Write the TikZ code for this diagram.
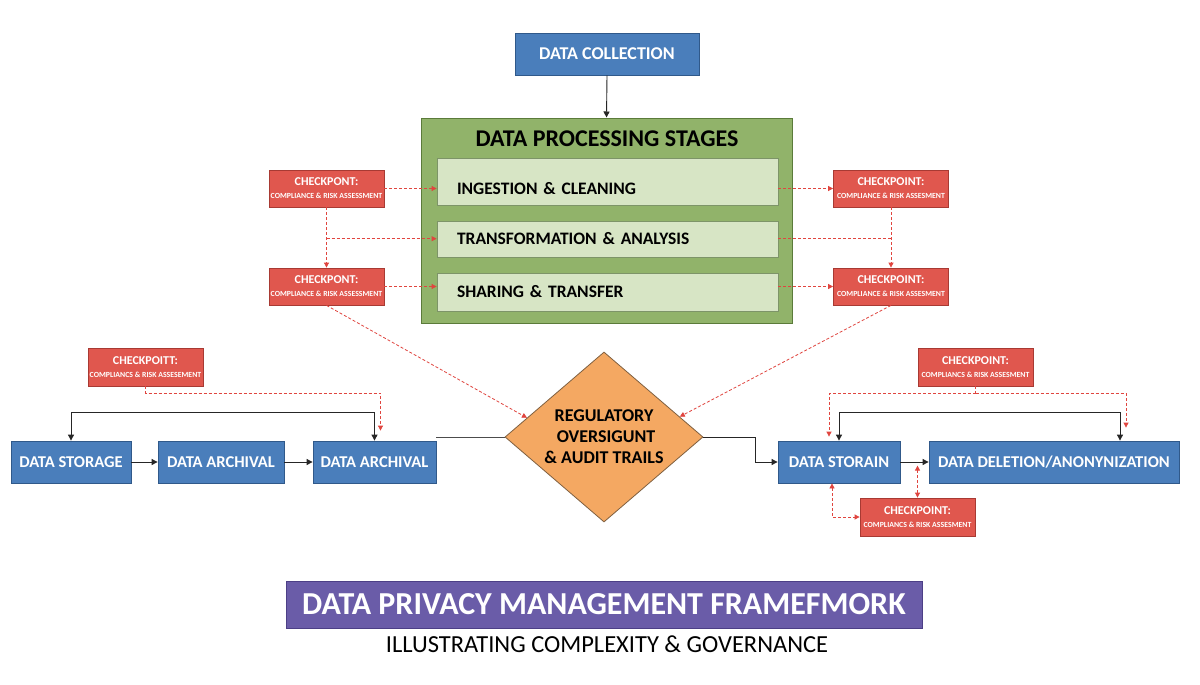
\documentclass[tikz,border=0pt]{standalone}
\usepackage{fontspec}
\setmainfont{Carlito}
\usetikzlibrary{shapes.geometric,arrows.meta,calc}
\definecolor{blueF}{HTML}{4A7EBB}
\definecolor{blueD}{HTML}{30598A}
\definecolor{greenF}{HTML}{91B36A}
\definecolor{greenD}{HTML}{5B7B3A}
\definecolor{innerF}{HTML}{D7E5C5}
\definecolor{innerD}{HTML}{7D9468}
\definecolor{redF}{HTML}{E0574E}
\definecolor{redD}{HTML}{A83A33}
\definecolor{redA}{HTML}{E0453F}
\definecolor{orangeF}{HTML}{F4A862}
\definecolor{orangeD}{HTML}{7F6040}
\definecolor{purpleF}{HTML}{6A5CA8}
\definecolor{purpleD}{HTML}{4C3F86}
\newcommand{\cpt}[2]{{\fontsize{12}{13}\selectfont\bfseries #1}\\[1pt]{\fontsize{7.8}{8}\selectfont\bfseries #2}}
\begin{document}
\begin{tikzpicture}[x=1pt,y=-1pt,
  bluebox/.style={draw=blueD,fill=blueF,line width=0.8pt,text=white,inner sep=0pt,
    font=\bfseries\fontsize{16.5}{18}\selectfont,minimum height=42pt},
  innerbox/.style={draw=innerD,fill=innerF,line width=0.8pt,text=black,inner ysep=0pt,
    inner xsep=20pt,text width=301pt,align=left,font=\bfseries\fontsize{17.5}{19}\selectfont},
  cpbox/.style={draw=redD,fill=redF,line width=0.8pt,text=white,inner sep=0pt,align=center,
    minimum width=115pt,minimum height=37pt},
  blk/.style={draw=black!85,line width=0.9pt,-{Triangle[width=6pt,length=6pt]}},
  grayline/.style={draw=black!70,line width=0.9pt},
  rdash/.style={draw=redA,line width=0.8pt,dash pattern=on 3pt off 2pt,-{Triangle[width=5pt,length=5pt]}},
  ]
\useasboundingbox (0,0) rectangle (1200,685);
\fill[white] (0,0) rectangle (1200,685);

% top
\node[bluebox,minimum width=184pt,font=\bfseries\fontsize{18}{20}\selectfont] (coll) at (607,54) {DATA COLLECTION};
\node[draw=greenD,fill=greenF,line width=1pt,minimum width=371pt,minimum height=205pt,inner sep=0pt] (outer) at (606.5,220.5) {};
\node[font=\bfseries\fontsize{24}{26}\selectfont] (ptitle) at (607,139) {DATA PROCESSING STAGES};
\node[innerbox,minimum height=47pt,text height=25pt,text depth=0pt] (in1) at (607.5,181.5) {INGESTION \& CLEANING};
\node[innerbox,minimum height=36pt] (in2) at (607.5,239) {TRANSFORMATION \& ANALYSIS};
\node[innerbox,minimum height=38pt] (in3) at (607.5,292) {SHARING \& TRANSFER};
\draw[blk] (coll.south) -- (outer.north);

% checkpoints around processing
\node[cpbox] (L1) at (326.5,188.5) {\cpt{CHECKPONT:}{COMPLIANCE \& RISK ASSESSMENT}};
\node[cpbox] (L2) at (326.5,286.5) {\cpt{CHECKPONT:}{COMPLIANCE \& RISK ASSESSMENT}};
\node[cpbox] (R1) at (891,188.5) {\cpt{CHECKPOINT:}{COMPLIANCE \& RISK ASSESMENT}};
\node[cpbox] (R2) at (891,286.5) {\cpt{CHECKPOINT:}{COMPLIANCE \& RISK ASSESMENT}};

\draw[rdash] (L1.east) -- (L1.east -| in1.west);
\draw[rdash] (L1.south) -- (L2.north);
\coordinate (lb) at ($(L1.south)!0.52!(L2.north)$);
\draw[rdash] (lb) -- (lb -| in2.west);
\draw[rdash] (L2.east) -- (L2.east -| in3.west);

\draw[rdash] (in1.east |- R1.west) -- (R1.west);
\draw[rdash] (R1.south) -- (R2.north);
\coordinate (rb) at ($(R1.south)!0.52!(R2.north)$);
\draw[rdash,-] (in2.east |- rb) -- (rb);
\draw[rdash] (in3.east |- R2.west) -- (R2.west);

% diamond
\node[shape=diamond,draw=orangeD,fill=orangeF,line width=0.8pt,minimum width=198pt,minimum height=170pt,
  inner sep=0pt,aspect=1.165,align=center,font=\bfseries\fontsize{18}{21}\selectfont] (diam) at (604,437)
  {REGULATORY\\ \ OVERSIGUNT\\\& AUDIT TRAILS};
\draw[rdash] (L2.south) -- (diam.166);
\draw[rdash] (R2.south) -- (diam.15);

% bottom left
\node[bluebox,minimum width=120pt] (st) at (71,462) {DATA STORAGE};
\node[bluebox,minimum width=126pt] (ar1) at (221,462) {DATA ARCHIVAL};
\node[bluebox,minimum width=123pt] (ar2) at (374.5,462) {DATA ARCHIVAL};
\draw[blk] (st.east) -- (ar1.west);
\draw[blk] (ar1.east) -- (ar2.west);
\draw[blk,{Triangle[width=6pt,length=6pt]}-{Triangle[width=6pt,length=6pt]}] (st.north) -- ++(0,-28) -| (ar2.north);
\node[cpbox,minimum height=38pt] (CL) at (145.5,367) {\cpt{CHECKPOITT:}{COMPLIANCS \& RISK ASSESEMENT}};
\draw[rdash] (CL.south) -- ++(0,7) -| ([xshift=6pt,yshift=10pt]ar2.north);
\draw[grayline] (ar2.east |- diam.west) -- (diam.west);

% bottom right
\node[bluebox,minimum width=122pt] (sto) at (839,462) {DATA STORAIN};
\node[bluebox,minimum width=250pt] (del) at (1054,462) {DATA DELETION/ANONYNIZATION};
\draw[blk] (diam.east) -- ++(52,0) |- (sto.west);
\draw[blk] (sto.east) -- (del.west);
\draw[blk,{Triangle[width=6pt,length=6pt]}-{Triangle[width=6pt,length=6pt]}] ([xshift=66pt]del.north) -- ++(0,-28) -| (sto.north);
\node[cpbox,minimum height=38pt] (CR) at (975.5,367) {\cpt{CHECKPOINT:}{COMPLIANCS \& RISK ASSESMENT}};
\draw[rdash,-] (CR.south) -- ++(0,7) coordinate (crj);
\draw[rdash] (crj) -| ([xshift=-10pt,yshift=4pt]sto.north);
\draw[rdash] (crj) -| ([xshift=72pt,yshift=13pt]del.north);
\node[cpbox,minimum height=38pt] (CB) at (917.5,517) {\cpt{CHECKPOINT:}{COMPLIANCS \& RISK ASSESMENT}};
\draw[rdash,{Triangle[width=5pt,length=5pt]}-{Triangle[width=5pt,length=5pt]}] ([xshift=-7pt]sto.south) |- (CB.west);
\draw[rdash,{Triangle[width=5pt,length=5pt]}-{Triangle[width=5pt,length=5pt]}] (CB.north) -- ++(0,-32);

% title
\node[draw=purpleD,fill=purpleF,line width=0.8pt,minimum width=636pt,minimum height=47pt,inner sep=0pt,
  text=white,font=\bfseries\fontsize{32}{34}\selectfont] (ttl) at (604,604.5) {DATA PRIVACY MANAGEMENT FRAMEFMORK};
\node[font=\fontsize{24.5}{27}\selectfont] (sub) at (607,644) {ILLUSTRATING COMPLEXITY \& GOVERNANCE};
\end{tikzpicture}
\end{document}
